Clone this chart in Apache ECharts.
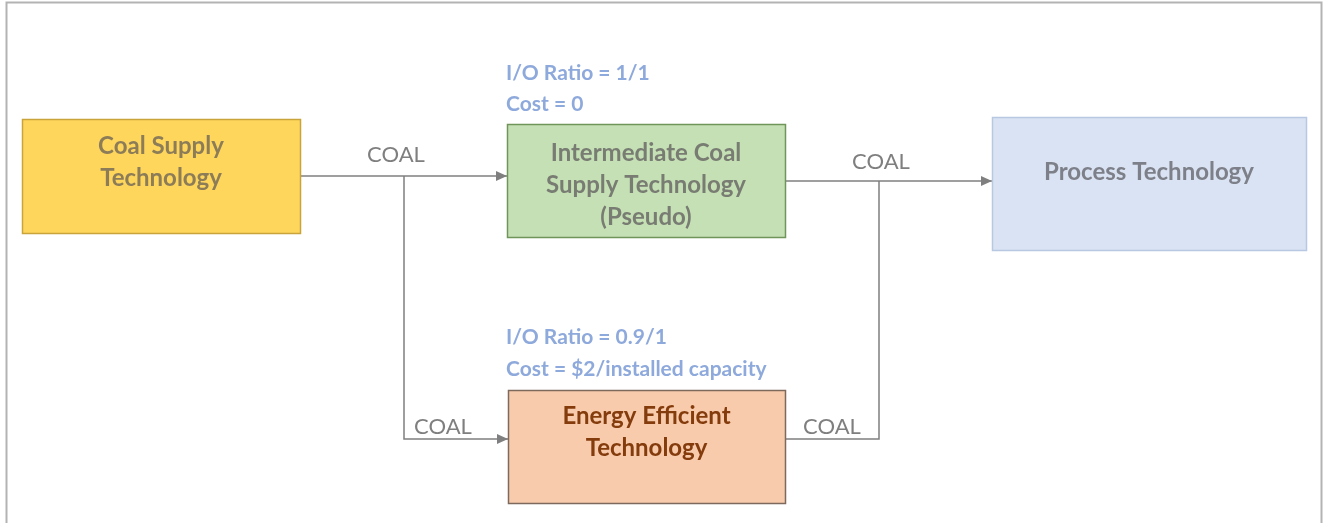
<!DOCTYPE html>
<html>
<head>
<meta charset="utf-8">
<script src="https://cdn.jsdelivr.net/npm/echarts@6/dist/echarts.min.js"></script>
<style>
  html, body { margin: 0; padding: 0; background: #fff; }
  #chart { width: 1327px; height: 523px; }
</style>
</head>
<body>
<div id="chart"></div>
<script>
// diagram space is 1327 x 523, y grows downwards
const boxNames = [
  'Coal Supply\nTechnology',
  'Intermediate Coal\nSupply Technology\n(Pseudo)',
  'Process Technology',
  'Energy Efficient\nTechnology'
];
// [x0, y0, x1, y1, textCenterY]
const boxRects = [
  [22, 119, 300, 233, 162],
  [507, 124, 785, 237, 185],
  [992, 117, 1306, 250, 172],
  [508, 390, 785, 503, 432]
];
const boxFills = ['#FFD65C', '#C5E0B4', '#DAE3F3', '#F8CBAD'];
const boxBorders = ['#C9A43A', '#6F955A', '#B8C8E2', '#7E6A5C'];
const boxText = ['#8C7D58', '#787C72', '#7E8089', '#843C0C'];

const flowLabels = ['COAL', 'COAL', 'COAL', 'COAL'];
const flowLabelPos = [[396, 155], [881, 162], [443, 427], [832, 427]];

const noteLabels = ['I/O Ratio = 1/1', 'Cost = 0', 'I/O Ratio = 0.9/1', 'Cost = $2/installed capacity'];
const notePos = [[506, 73], [506, 104], [506, 337], [506, 369]];

// connector paths, last point is where the arrow (if any) points
const connPaths = [
  [[300, 176], [507, 176]],
  [[404, 176], [404, 439], [508, 439]],
  [[785, 181], [992, 181]],
  [[785, 439], [879, 439], [879, 181]]
];
const connArrow = [1, 1, 1, 0];

const font = 'Lato, "Open Sans", sans-serif';
const chart = echarts.init(document.getElementById('chart'));

chart.setOption({
  animation: false,
  grid: { left: 0, right: 0, top: 0, bottom: 0 },
  xAxis: { type: 'value', min: 0, max: 1327, show: false },
  yAxis: { type: 'value', min: 0, max: 523, inverse: true, show: false },
  graphic: [{
    type: 'polyline',
    shape: { points: [[6.5, 530], [6.5, 2.5], [1321.5, 2.5], [1321.5, 530]] },
    style: { stroke: '#B3B3B3', lineWidth: 2, fill: null },
    silent: true
  }],
  series: [
    {
      type: 'custom',
      z: 1,
      data: connPaths.map((p, i) => [i, connArrow[i]]),
      renderItem: function (params, api) {
        const path = connPaths[api.value(0)];
        const pts = path.map(p => api.coord(p));
        const children = [{
          type: 'polyline',
          shape: { points: pts },
          style: { stroke: '#7F7F7F', lineWidth: 1.5, fill: null }
        }];
        if (api.value(1)) {
          const a = pts[pts.length - 2], b = pts[pts.length - 1];
          const len = Math.hypot(b[0] - a[0], b[1] - a[1]);
          const ux = (b[0] - a[0]) / len, uy = (b[1] - a[1]) / len;
          const L = 11, W = 5;
          const bx = b[0] - ux * L, by = b[1] - uy * L;
          children.push({
            type: 'polygon',
            shape: { points: [b, [bx - uy * W, by + ux * W], [bx + uy * W, by - ux * W]] },
            style: { fill: '#7F7F7F' }
          });
        }
        return { type: 'group', children: children };
      }
    },
    {
      type: 'custom',
      z: 2,
      data: boxRects.map((r, i) => [r[0], r[1], r[2], r[3], r[4], i]),
      renderItem: function (params, api) {
        const i = api.value(5);
        const p0 = api.coord([api.value(0), api.value(1)]);
        const p1 = api.coord([api.value(2), api.value(3)]);
        const ty = api.coord([0, api.value(4)])[1];
        return {
          type: 'group',
          children: [
            {
              type: 'rect',
              shape: { x: p0[0] + 0.5, y: p0[1] + 0.5, width: p1[0] - p0[0], height: p1[1] - p0[1] },
              style: { fill: boxFills[i], stroke: boxBorders[i], lineWidth: 1.5 }
            },
            {
              type: 'text',
              x: (p0[0] + p1[0]) / 2,
              y: ty,
              style: {
                text: boxNames[i],
                fill: boxText[i],
                font: 'bold 24px ' + font,
                lineHeight: 32,
                align: 'center',
                verticalAlign: 'middle'
              }
            }
          ]
        };
      }
    },
    {
      type: 'custom',
      z: 3,
      data: flowLabelPos.map((p, i) => [p[0], p[1], i]),
      renderItem: function (params, api) {
        const pt = api.coord([api.value(0), api.value(1)]);
        return {
          type: 'text',
          x: pt[0], y: pt[1],
          style: {
            text: flowLabels[api.value(2)],
            fill: '#7F7F7F',
            font: '22px ' + font,
            align: 'center',
            verticalAlign: 'middle'
          }
        };
      }
    },
    {
      type: 'custom',
      z: 3,
      data: notePos.map((p, i) => [p[0], p[1], i]),
      renderItem: function (params, api) {
        const pt = api.coord([api.value(0), api.value(1)]);
        return {
          type: 'text',
          x: pt[0], y: pt[1],
          style: {
            text: noteLabels[api.value(2)],
            fill: '#8EA9DB',
            font: 'bold 21px ' + font,
            align: 'left',
            verticalAlign: 'middle'
          }
        };
      }
    }
  ]
});
</script>
</body>
</html>
